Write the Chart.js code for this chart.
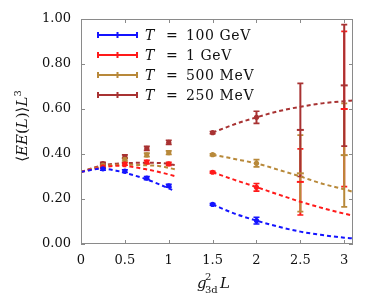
<!DOCTYPE html>
<html>
<head>
<meta charset="utf-8">
<script src="https://cdn.jsdelivr.net/npm/chart.js@4"></script>
<style>
  html, body { margin: 0; padding: 0; background: #fff; }
  #wrap { width: 383px; height: 298px; }
</style>
</head>
<body>
<div id="wrap"><canvas id="chart"></canvas></div>
<script>
// measured points
const xPts = [0.25, 0.5, 0.75, 1.0, 1.5, 2.0, 2.5, 3.0];
const tempLabels = ['100 GeV', '1 GeV', '500 MeV', '250 MeV'];

const blueVals  = [0.334, 0.324, 0.293, 0.259, 0.176, 0.104, null, null];
const blueErr   = [0.006, 0.006, 0.007, 0.006, 0.004, 0.015, null, null];
const redVals   = [0.343, 0.356, 0.364, 0.356, 0.319, 0.252, 0.276, 0.600];
const redErr    = [0.006, 0.006, 0.008, 0.007, 0.004, 0.017, 0.147, 0.345];
const goldVals  = [0.350, 0.376, 0.396, 0.406, 0.397, 0.359, 0.314, 0.395];
const goldErr   = [0.006, 0.007, 0.008, 0.008, 0.004, 0.016, 0.170, 0.230];
const brownVals = [0.357, 0.388, 0.425, 0.452, 0.495, 0.563, 0.507, 0.705];
const brownErr  = [0.006, 0.008, 0.009, 0.009, 0.005, 0.027, 0.207, 0.270];

// fit curves (small L and large L pieces)
const fitXLeft  = [0, 0.1, 0.25, 0.4, 0.56, 0.73, 0.9, 1.07];
const blueFitL  = [0.320, 0.328, 0.335, 0.326, 0.310, 0.290, 0.264, 0.235];
const redFitL   = [0.320, 0.330, 0.340, 0.348, 0.344, 0.333, 0.319, 0.302];
const goldFitL  = [0.320, 0.332, 0.345, 0.352, 0.352, 0.350, 0.346, 0.332];
const brownFitL = [0.320, 0.334, 0.350, 0.357, 0.360, 0.361, 0.360, 0.351];

const fitXRight = [1.5, 1.75, 2.0, 2.25, 2.5, 2.75, 3.0, 3.1];
const blueFitR  = [0.176, 0.135, 0.104, 0.077, 0.055, 0.040, 0.028, 0.025];
const redFitR   = [0.319, 0.285, 0.253, 0.220, 0.188, 0.160, 0.135, 0.126];
const goldFitR  = [0.397, 0.378, 0.358, 0.330, 0.300, 0.268, 0.243, 0.232];
const brownFitR = [0.495, 0.532, 0.563, 0.590, 0.610, 0.625, 0.635, 0.638];

const xTicks = [0, 0.5, 1, 1.5, 2, 2.5, 3];
const yTicks = [0, 0.2, 0.4, 0.6, 0.8, 1.0];

const colors = {
  blue: '#1414ff',
  red: '#ff1a1a',
  gold: '#b8893a',
  brown: '#a83232',
};

const series = [
  { name: tempLabels[0], vals: blueVals, err: blueErr, fitL: blueFitL, fitR: blueFitR, color: colors.blue },
  { name: tempLabels[1], vals: redVals, err: redErr, fitL: redFitL, fitR: redFitR, color: colors.red },
  { name: tempLabels[2], vals: goldVals, err: goldErr, fitL: goldFitL, fitR: goldFitR, color: colors.gold },
  { name: tempLabels[3], vals: brownVals, err: brownErr, fitL: brownFitL, fitR: brownFitR, color: colors.brown },
];

const serif = "'DejaVu Serif', serif";

function pts(xs, ys, errs) {
  return xs.map((x, i) => ({ x: x, y: ys[i], e: errs ? errs[i] : 0 })).filter(p => p.y !== null);
}

// big error bars get a flat tick instead of a dot
const bigErr = ctx => ctx.raw && ctx.raw.e > 0.1;

const datasets = [];
series.forEach(s => {
  datasets.push({
    label: s.name,
    data: pts(xPts, s.vals, s.err),
    backgroundColor: s.color,
    borderColor: s.color,
    pointStyle: ctx => bigErr(ctx) ? 'line' : 'circle',
    pointRadius: ctx => bigErr(ctx) ? 3.5 : 2.6,
    pointBorderWidth: ctx => bigErr(ctx) ? 2 : 0,
    showLine: false,
    order: 0,
  });
});
series.forEach(s => {
  [[fitXLeft, s.fitL], [fitXRight, s.fitR]].forEach(([xs, ys]) => {
    datasets.push({
      label: s.name + ' fit',
      data: pts(xs, ys),
      borderColor: s.color,
      borderWidth: 2,
      borderDash: [4, 3],
      pointRadius: 0,
      showLine: true,
      cubicInterpolationMode: 'monotone',
      order: 5,
    });
  });
});

// error bars under the markers; red, gold, then brown on top
const errorBars = {
  id: 'errorBars',
  beforeDatasetsDraw(chart) {
    const { ctx, scales: { x, y }, chartArea } = chart;
    ctx.save();
    ctx.beginPath();
    ctx.rect(chartArea.left, chartArea.top, chartArea.width, chartArea.height);
    ctx.clip();
    [series[1], series[2], series[3], series[0]].forEach(s => {
      ctx.strokeStyle = s.color;
      xPts.forEach((xv, i) => {
        if (s.vals[i] === null) return;
        const px = x.getPixelForValue(xv);
        const top = y.getPixelForValue(s.vals[i] + s.err[i]);
        const bot = y.getPixelForValue(s.vals[i] - s.err[i]);
        ctx.lineWidth = 2;
        ctx.beginPath();
        ctx.moveTo(px, top);
        ctx.lineTo(px, bot);
        ctx.stroke();
        ctx.lineWidth = 1.6;
        ctx.beginPath();
        ctx.moveTo(px - 3, top); ctx.lineTo(px + 3, top);
        ctx.moveTo(px - 3, bot); ctx.lineTo(px + 3, bot);
        ctx.stroke();
      });
    });
    ctx.restore();
  }
};

// frame with inward ticks on all four sides
const frame = {
  id: 'frame',
  afterDraw(chart) {
    const { ctx, scales: { x, y }, chartArea: a } = chart;
    ctx.save();
    ctx.strokeStyle = '#8a8a8a';
    ctx.lineWidth = 1;
    ctx.strokeRect(a.left + 0.5, a.top + 0.5, a.width - 1, a.height - 1);
    ctx.beginPath();
    xTicks.forEach(v => {
      const px = Math.round(x.getPixelForValue(v)) + 0.5;
      ctx.moveTo(px, a.bottom); ctx.lineTo(px, a.bottom - 4);
      ctx.moveTo(px, a.top); ctx.lineTo(px, a.top + 4);
    });
    yTicks.forEach(v => {
      const py = Math.round(y.getPixelForValue(v)) + 0.5;
      ctx.moveTo(a.left, py); ctx.lineTo(a.left + 4, py);
      ctx.moveTo(a.right, py); ctx.lineTo(a.right - 4, py);
    });
    ctx.stroke();
    ctx.restore();
  }
};

// legend rows with error-bar style samples, T in italics
const legendBox = {
  id: 'legendBox',
  afterDraw(chart) {
    const { ctx } = chart;
    ctx.save();
    series.forEach((s, i) => {
      const ly = 35 + i * 20;
      ctx.strokeStyle = s.color;
      ctx.lineWidth = 2;
      ctx.beginPath();
      ctx.moveTo(98, ly); ctx.lineTo(137, ly);
      [98, 117.5, 137].forEach(tx => { ctx.moveTo(tx, ly - 3); ctx.lineTo(tx, ly + 3); });
      ctx.stroke();
      ctx.fillStyle = '#111';
      ctx.textBaseline = 'middle';
      ctx.font = 'italic 14px ' + serif;
      ctx.fillText('T', 145, ly + 1);
      ctx.font = '14px ' + serif;
      ctx.fillText('=', 166, ly + 1);
      ctx.letterSpacing = '0.6px';
      ctx.fillText(s.name, 186, ly + 1);
      ctx.letterSpacing = '0px';
    });
    ctx.restore();
  }
};

// axis titles with italics, super- and subscripts
const axisTitles = {
  id: 'axisTitles',
  afterDraw(chart) {
    const { ctx } = chart;
    ctx.save();
    ctx.fillStyle = '#111';
    ctx.textBaseline = 'alphabetic';

    // x title: g^2_{3d} L
    ctx.font = 'italic 15px ' + serif;
    ctx.fillText('g', 197, 288);
    ctx.font = '10px ' + serif;
    ctx.fillText('2', 205, 280);
    ctx.fillText('3d', 205, 293);
    ctx.font = 'italic 15px ' + serif;
    ctx.fillText('L', 220, 288);

    // y title: <EE(L)> L^3, rotated
    const parts = [
      ['⟨', '15px'], ['EE', 'italic 15px'], ['(', '15px'], ['L', 'italic 15px'],
      [')', '15px'], ['⟩', '15px'], ['L', 'italic 15px'], ['3', '10px', -6],
    ];
    let total = 0;
    parts.forEach(p => { ctx.font = p[1] + ' ' + serif; total += ctx.measureText(p[0]).width; });
    ctx.translate(27, 126);
    ctx.rotate(-Math.PI / 2);
    let cx = -total / 2;
    parts.forEach(p => {
      ctx.font = p[1] + ' ' + serif;
      ctx.fillText(p[0], cx, p[2] || 0);
      cx += ctx.measureText(p[0]).width;
    });
    ctx.restore();
  }
};

new Chart(document.getElementById('chart'), {
  type: 'scatter',
  data: { datasets: datasets },
  options: {
    responsive: true,
    maintainAspectRatio: false,
    animation: false,
    layout: { padding: { top: 19, right: 30, left: 0, bottom: 0 } },
    plugins: {
      legend: { display: false },
      tooltip: { enabled: false },
    },
    scales: {
      x: {
        type: 'linear',
        min: 0,
        max: 3.1,
        afterBuildTicks: s => { s.ticks = xTicks.map(v => ({ value: v })); },
        afterFit: s => { s.height = 54; },
        grid: { display: false, drawTicks: false },
        border: { display: false },
        ticks: {
          color: '#111',
          padding: 9,
          font: { family: serif, size: 13 },
          callback: v => String(v),
        },
      },
      y: {
        type: 'linear',
        min: 0,
        max: 1,
        afterBuildTicks: s => { s.ticks = yTicks.map(v => ({ value: v })); },
        afterFit: s => { s.width = 81; },
        grid: { display: false, drawTicks: false },
        border: { display: false },
        ticks: {
          color: '#111',
          padding: 10,
          font: { family: serif, size: 13 },
          callback: v => v.toFixed(2),
        },
      },
    },
  },
  plugins: [errorBars, frame, legendBox, axisTitles],
});
</script>
</body>
</html>
